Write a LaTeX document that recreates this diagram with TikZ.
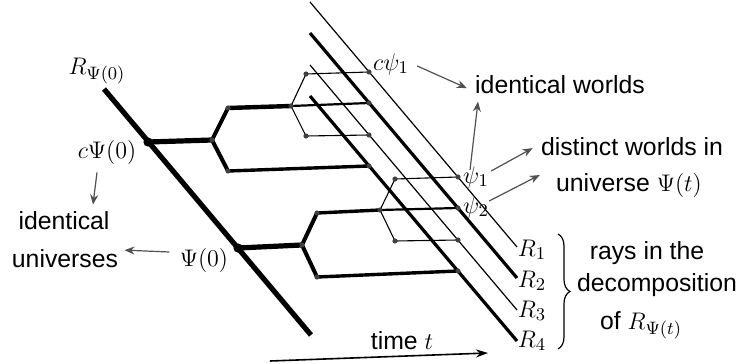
\documentclass[tikz,border=0pt]{standalone}
\usepackage{fontspec}
\setmainfont{Liberation Sans}
\usetikzlibrary{arrows.meta,decorations.pathreplacing}
\definecolor{notec}{HTML}{505050}
\definecolor{dotc}{HTML}{404040}
\begin{document}
\begin{tikzpicture}[x=0.5pt,y=-0.5pt,
  font=\fontsize{12.4}{14}\selectfont,
  ray0/.style={line width=2.6pt},
  thk/.style={line width=2.6pt},
  brw/.style={line width=2pt},
  med/.style={line width=1.7pt},
  mdl/.style={line width=1.1pt},
  thn/.style={line width=0.55pt},
  rthin/.style={line width=0.6pt},
  rthick/.style={line width=1.6pt},
  lab/.style={inner sep=0pt, anchor=base},
  mlab/.style={inner sep=0pt, anchor=base, font=\fontsize{13}{15}\selectfont},
  note/.style={-{Stealth[length=5pt,width=4pt]}, draw=notec, line width=0.6pt},
  dot/.style={fill=dotc},
]
\useasboundingbox (0,0) rectangle (740,364);
% points
\coordinate (A0) at (104,89);
\coordinate (A1) at (311,335);
\coordinate (cP) at (148,142);
\coordinate (P0) at (238,248);
\coordinate (u1) at (212,140);
\coordinate (u2) at (228,108);
\coordinate (u3) at (228,171);
\coordinate (u4) at (291,106);
\coordinate (u5) at (306,74);
\coordinate (u6) at (306,136);
\coordinate (cpsi) at (369,72);
\coordinate (w2) at (369,103);
\coordinate (w3) at (369,135);
\coordinate (w4) at (369,166);
\coordinate (l1) at (302,245);
\coordinate (l2) at (317,213);
\coordinate (l3) at (317,277);
\coordinate (l4) at (380,210);
\coordinate (l5) at (395,179);
\coordinate (l6) at (395,241);
\coordinate (psi1) at (458,177);
\coordinate (psi2) at (458,208);
\coordinate (v3) at (458,240);
\coordinate (v4) at (458,271);
\coordinate (r1a) at (310,2);
\coordinate (r1b) at (517,247);
\coordinate (r2a) at (310,33);
\coordinate (r2b) at (517,278);
\coordinate (r3a) at (310,65);
\coordinate (r3b) at (517,310);
\coordinate (r4a) at (310,96);
\coordinate (r4b) at (517,341);
\coordinate (ta) at (270,361);
\coordinate (tb) at (488,353);
\coordinate (bra) at (558,234);
\coordinate (brb) at (558,349);
% rays
\draw[rthin] (r1a) -- (r1b);
\draw[rthick] (r2a) -- (r2b);
\draw[rthin] (r3a) -- (r3b);
\draw[rthick] (r4a) -- (r4b);
% upper universe
\draw[thk] (cP) -- (u1);
\draw[brw] (u2) -- (u1) -- (u3);
\draw[line width=2.2pt] (u2) -- (u4);
\draw[med] (u3) -- (w4);
\draw[mdl] (u4) -- (w2);
\draw[thn] (cpsi) -- (u5) -- (u4) -- (u6) -- (w3);
% lower universe
\draw[thk] (P0) -- (l1);
\draw[brw] (l2) -- (l1) -- (l3);
\draw[med] (l2) -- (l4);
\draw[med] (l3) -- (v4);
\draw[mdl] (l4) -- (psi2);
\draw[thn] (psi1) -- (l5) -- (l4) -- (l6) -- (v3);
% main ray
\draw[ray0] (A0) -- (A1);
% dots
\foreach \p in {u1,u2,u3,u4,u5,u6,cpsi,w2,w3,w4,l1,l2,l3,l4,l5,l6,psi1,psi2,v3,v4}
  \fill[dot] (\p) circle (1.3pt);
\fill (cP) circle (2.3pt);
\fill (P0) circle (2.3pt);
% labels
\node[mlab] (RPlab) at (97,74) {$R_{\Psi(0)}$};
\node[mlab] (cPlab) at (107,158) {$c\Psi(0)$};
\node[lab] (idU1) at (64,229) {identical};
\node[lab] (idU2) at (65,267) {universes};
\node[mlab] (P0lab) at (204,266) {$\Psi(0)$};
\node[mlab] (cpsilab) at (391,70) {$c\psi_1$};
\node[lab] (idW) at (560,93) {identical worlds};
\node[mlab] (psi1lab) at (476,183) {$\psi_1$};
\node[mlab] (psi2lab) at (476,213) {$\psi_2$};
\node[lab] (dW1) at (632,155) {distinct worlds in};
\node[lab] (dW2) at (629,191) {universe $\Psi(t)$};
\node[mlab] (R1lab) at (532,256) {$R_1$};
\node[mlab] (R2lab) at (532,287) {$R_2$};
\node[mlab] (R3lab) at (532,317) {$R_3$};
\node[mlab] (R4lab) at (532,347) {$R_4$};
\node[lab] (rays1) at (647,259) {rays in the};
\node[lab] (rays2) at (657,291) {decomposition};
\node[lab] (rays3) at (641,329) {of $R_{\Psi(t)}$};
\node[lab] (timelab) at (402,349) {time $t$};
% brace
\draw[line width=0.6pt, decorate, decoration={brace, amplitude=6pt}] (bra) -- (brb);
% time arrow
\draw[-{Stealth[length=6pt,width=4pt]}, line width=0.8pt] (ta) -- (tb);
% annotation arrows
\draw[note] ([xshift=-5pt,yshift=-4pt]cPlab.south) -- ([xshift=14.5pt,yshift=3pt]idU1.north);
\draw[note] ([xshift=-5pt,yshift=4pt]P0lab.west) -- ([xshift=3pt,yshift=4pt]idU2.east);
\draw[note] ([xshift=4pt,yshift=-1pt]cpsilab.east) -- ([xshift=-4pt,yshift=-2pt]idW.west);
\draw[note] ([xshift=-3pt,yshift=-2pt]psi1lab.north) -- ([xshift=-41pt,yshift=-4pt]idW.south);
\draw[note] ([xshift=1pt,yshift=3pt]psi1lab.east) -- ([xshift=-4pt,yshift=-1pt]dW1.west);
\draw[note] ([xshift=0pt,yshift=3pt]psi2lab.east) -- ([xshift=-8pt,yshift=5pt]dW2.west);
\end{tikzpicture}
\end{document}
